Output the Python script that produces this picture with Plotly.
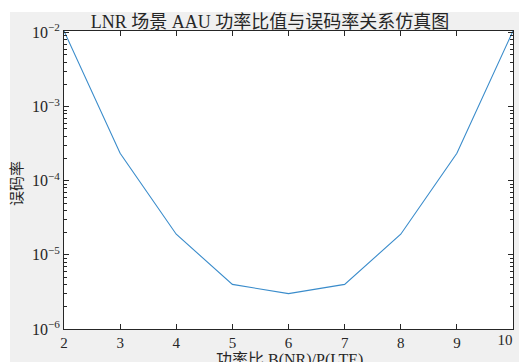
import math
import plotly.graph_objects as go

# power ratio P(NR)/P(LTE) and the simulated bit error rate
power_ratio = [2, 3, 4, 5, 6, 7, 8, 9, 10]
bit_error_rate = [1.05e-2, 2.35e-4, 1.9e-5, 4.0e-6, 3.0e-6, 4.0e-6, 1.9e-5, 2.35e-4, 1.05e-2]

x_ticks = [2, 3, 4, 5, 6, 7, 8, 9, 10]
y_exponents = [-6, -5, -4, -3, -2]

title_text = "LNR 场景 AAU 功率比值与误码率关系仿真图"
x_label = "功率比 B(NR)/P(LTE)"
y_label = "误码率"

FONT = '"Liberation Serif", "Noto Sans CJK SC", serif'
AXIS_COLOR = "#262626"
TEXT_COLOR = "#262626"
L, R, T, B = 64, 6, 31, 33
W, H = 519, 362
PW, PH = W - L - R, H - T - B

fig = go.Figure()
fig.add_trace(go.Scatter(
    x=power_ratio, y=bit_error_rate, mode="lines",
    line=dict(color="#3a8ccb", width=1.1),
    showlegend=False,
))
# invisible companion trace so the overlay axis carrying the last x label is drawn
fig.add_trace(go.Scatter(
    x=power_ratio, y=bit_error_rate, xaxis="x2", mode="lines",
    line=dict(width=0), hoverinfo="skip", showlegend=False, opacity=0,
))

y_vals = [10.0 ** e for e in y_exponents]
y_text = [f"10<sup>−{-e}</sup>" for e in y_exponents]
# minor ticks at 2..9 within each decade
y_minor = [m * 10.0 ** e for e in y_exponents[:-1] for m in range(2, 10)]
y_top = math.log10(max(bit_error_rate))

x_text = [str(v) for v in x_ticks]
tick_font_x = dict(family=FONT, size=15, color=TEXT_COLOR)

fig.update_layout(
    xaxis=dict(
        range=[x_ticks[0], x_ticks[-1]], tickvals=x_ticks[:-1], ticktext=x_text[:-1],
        ticks="inside", ticklen=5, tickwidth=1, tickcolor=AXIS_COLOR,
        showline=True, linecolor=AXIS_COLOR, linewidth=1, mirror="ticks",
        showgrid=False, zeroline=False, automargin=False,
        tickfont=tick_font_x,
    ),
    # the right-most label sits left of its tick so it stays inside the figure
    xaxis2=dict(
        overlaying="x", side="bottom", range=[x_ticks[0], x_ticks[-1]],
        tickvals=x_ticks[-1:], ticktext=x_text[-1:],
        ticks="inside", ticklen=5, tickwidth=1, tickcolor=AXIS_COLOR,
        ticklabelposition="outside left", showline=False,
        showgrid=False, zeroline=False, automargin=False,
        tickfont=tick_font_x,
    ),
    yaxis=dict(
        type="log", range=[-6, y_top], tickvals=y_vals, ticktext=y_text,
        ticks="inside", ticklen=5, tickwidth=1, tickcolor=AXIS_COLOR,
        minor=dict(tickvals=y_minor, ticks="inside", ticklen=3,
                   tickcolor=AXIS_COLOR, showgrid=False),
        showline=True, linecolor=AXIS_COLOR, linewidth=1, mirror="ticks",
        showgrid=False, zeroline=False, automargin=False,
        tickfont=dict(family=FONT, size=16, color=TEXT_COLOR),
    ),
)

# axis titles
fig.add_annotation(text=x_label, xref="paper", yref="paper",
                   x=(289.5 - L) / PW, y=(H - B - 360) / PH,
                   xanchor="center", yanchor="middle", showarrow=False,
                   font=dict(family=FONT, size=16, color=TEXT_COLOR))
fig.add_annotation(text=y_label, xref="paper", yref="paper",
                   x=(17 - L) / PW, y=(H - B - 184) / PH, textangle=-90,
                   xanchor="center", yanchor="middle", showarrow=False,
                   font=dict(family=FONT, size=15, color=TEXT_COLOR))

# white strips along the top and left edges of the gray figure background
top_y0 = (H - B - 12) / PH
left_x1 = (10 - L) / PW
fig.add_shape(type="rect", xref="paper", yref="paper", layer="below",
              x0=-1, x1=2, y0=top_y0, y1=3, fillcolor="white", line=dict(width=0))
fig.add_shape(type="rect", xref="paper", yref="paper", layer="below",
              x0=-1, x1=left_x1, y0=-1, y1=3, fillcolor="white", line=dict(width=0))

fig.update_layout(
    width=W, height=H,
    margin=dict(l=L, r=R, t=T, b=B, pad=0, autoexpand=False),
    paper_bgcolor="#f0f0f0", plot_bgcolor="white",
    title=dict(text=title_text, x=270 / W, xanchor="center",
               y=1 - 22 / H, yanchor="middle",
               font=dict(family=FONT, size=18, color=TEXT_COLOR)),
)

fig.write_html("out.html")
